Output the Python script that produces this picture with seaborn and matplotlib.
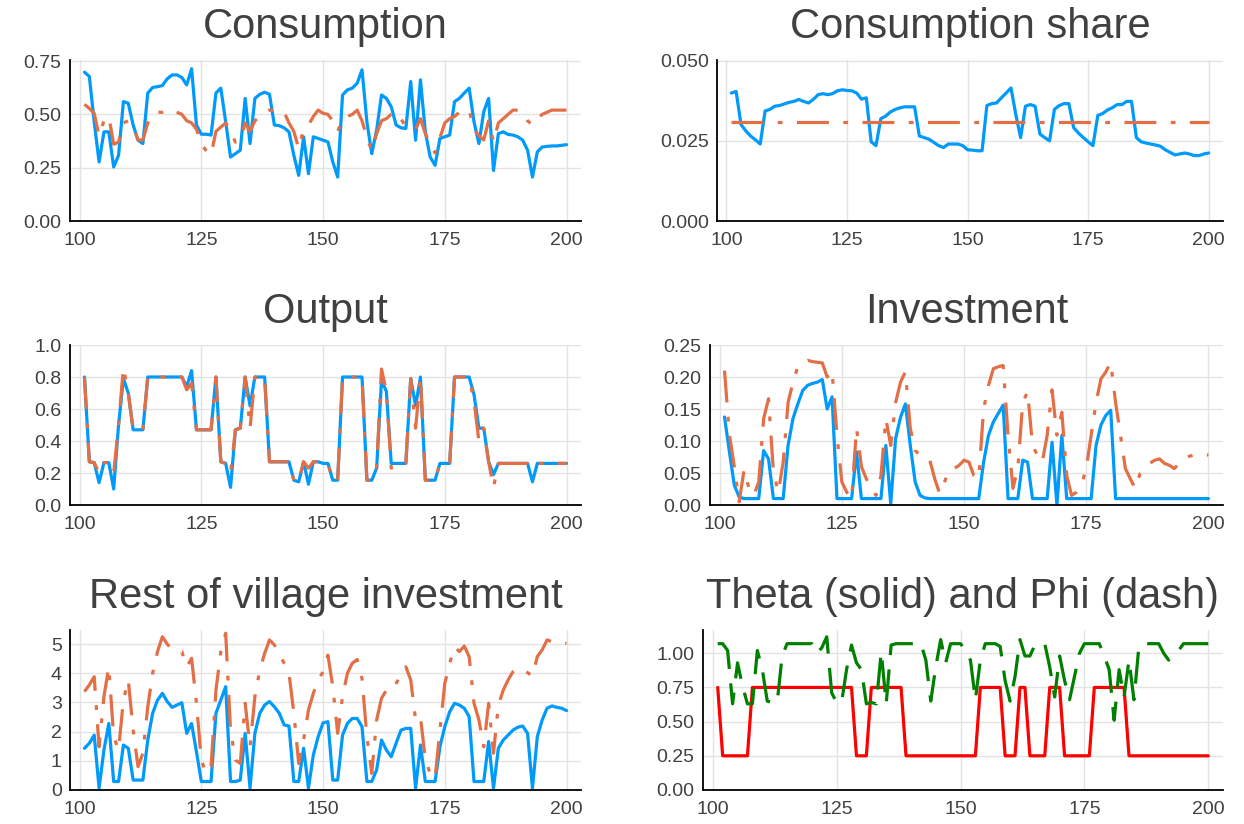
import numpy as np
import matplotlib
matplotlib.use("Agg")
import matplotlib.pyplot as plt
import seaborn as sns

# ---- data -------------------------------------------------------------
periods = list(range(101, 201))

consumption = [
    0.698, 0.678, 0.465, 0.277, 0.418, 0.418, 0.253, 0.308, 0.560, 0.552,
    0.450, 0.379, 0.363, 0.600, 0.626, 0.630, 0.635, 0.667, 0.685, 0.685,
    0.673, 0.638, 0.714, 0.450, 0.407, 0.407, 0.403, 0.600, 0.623, 0.465,
    0.300, 0.316, 0.332, 0.575, 0.363, 0.575, 0.594, 0.604, 0.594, 0.450,
    0.447, 0.437, 0.418, 0.308, 0.214, 0.395, 0.222, 0.395, 0.387, 0.379,
    0.371, 0.277, 0.206, 0.591, 0.615, 0.623, 0.646, 0.709, 0.465, 0.316,
    0.426, 0.591, 0.575, 0.536, 0.450, 0.437, 0.434, 0.654, 0.379, 0.662,
    0.418, 0.300, 0.261, 0.387, 0.395, 0.403, 0.560, 0.575, 0.600, 0.623,
    0.465, 0.363, 0.513, 0.575, 0.237, 0.410, 0.418, 0.406, 0.403, 0.395,
    0.379, 0.332, 0.206, 0.324, 0.347, 0.350, 0.352, 0.352, 0.355, 0.358,
]
consumption_alt = [
    0.547, 0.528, 0.505, 0.400, 0.470, 0.490, 0.360, 0.370, 0.460, 0.470,
    0.440, 0.380, 0.380, 0.460, 0.500, 0.510, 0.510, 0.520, 0.520, 0.510,
    0.500, 0.470, 0.460, 0.430, 0.360, 0.330, 0.310, 0.420, 0.440, 0.460,
    0.420, 0.370, 0.380, 0.460, 0.420, 0.470, 0.490, 0.510, 0.520, 0.520,
    0.520, 0.510, 0.460, 0.420, 0.340, 0.430, 0.450, 0.490, 0.520, 0.505,
    0.500, 0.470, 0.420, 0.480, 0.490, 0.500, 0.520, 0.470, 0.390, 0.330,
    0.410, 0.470, 0.480, 0.500, 0.510, 0.480, 0.440, 0.440, 0.430, 0.480,
    0.410, 0.360, 0.320, 0.390, 0.460, 0.480, 0.490, 0.510, 0.520, 0.520,
    0.430, 0.400, 0.380, 0.470, 0.370, 0.460, 0.480, 0.500, 0.520, 0.520,
    0.510, 0.470, 0.450, 0.480, 0.500, 0.510, 0.520, 0.520, 0.520, 0.520,
]

share = [
    0.0399, 0.0404, 0.0301, 0.0281, 0.0265, 0.0253, 0.0240, 0.0343, 0.0348, 0.0358,
    0.0360, 0.0365, 0.0370, 0.0373, 0.0379, 0.0373, 0.0368, 0.0379, 0.0394, 0.0397,
    0.0394, 0.0397, 0.0406, 0.0409, 0.0407, 0.0406, 0.0399, 0.0380, 0.0384, 0.0247,
    0.0235, 0.0319, 0.0327, 0.0340, 0.0348, 0.0353, 0.0356, 0.0356, 0.0356, 0.0265,
    0.0260, 0.0255, 0.0245, 0.0235, 0.0229, 0.0240, 0.0240, 0.0240, 0.0235, 0.0222,
    0.0221, 0.0219, 0.0219, 0.0360, 0.0366, 0.0368, 0.0384, 0.0399, 0.0415, 0.0332,
    0.0260, 0.0358, 0.0363, 0.0358, 0.0271, 0.0260, 0.0250, 0.0348, 0.0360, 0.0366,
    0.0366, 0.0291, 0.0274, 0.0260, 0.0247, 0.0235, 0.0329, 0.0335, 0.0346, 0.0353,
    0.0363, 0.0363, 0.0373, 0.0373, 0.0260, 0.0247, 0.0243, 0.0240, 0.0237, 0.0233,
    0.0222, 0.0214, 0.0206, 0.0209, 0.0212, 0.0209, 0.0204, 0.0204, 0.0209, 0.0212,
]
share_alt = [0.031] * 100

output = [
    0.80, 0.27, 0.265, 0.14, 0.265, 0.265, 0.10, 0.50, 0.79, 0.70,
    0.47, 0.47, 0.47, 0.80, 0.80, 0.80, 0.80, 0.80, 0.80, 0.80,
    0.80, 0.74, 0.84, 0.47, 0.47, 0.47, 0.47, 0.80, 0.27, 0.26,
    0.11, 0.47, 0.48, 0.80, 0.62, 0.80, 0.80, 0.80, 0.27, 0.27,
    0.27, 0.27, 0.27, 0.155, 0.145, 0.27, 0.13, 0.27, 0.27, 0.26,
    0.26, 0.155, 0.155, 0.80, 0.80, 0.80, 0.80, 0.80, 0.155, 0.155,
    0.23, 0.78, 0.71, 0.26, 0.26, 0.26, 0.26, 0.79, 0.62, 0.80,
    0.155, 0.155, 0.155, 0.26, 0.26, 0.26, 0.80, 0.80, 0.80, 0.80,
    0.69, 0.48, 0.48, 0.27, 0.19, 0.26, 0.26, 0.26, 0.26, 0.26,
    0.26, 0.26, 0.145, 0.26, 0.26, 0.26, 0.26, 0.26, 0.26, 0.26,
]
output_alt = [
    0.80, 0.27, 0.265, 0.20, 0.265, 0.265, 0.20, 0.50, 0.86, 0.70,
    0.47, 0.47, 0.47, 0.80, 0.80, 0.80, 0.80, 0.80, 0.80, 0.80,
    0.80, 0.72, 0.76, 0.47, 0.47, 0.47, 0.47, 0.80, 0.27, 0.26,
    0.20, 0.47, 0.48, 0.80, 0.48, 0.80, 0.80, 0.80, 0.27, 0.27,
    0.27, 0.27, 0.27, 0.155, 0.145, 0.27, 0.23, 0.27, 0.27, 0.26,
    0.26, 0.155, 0.155, 0.80, 0.80, 0.80, 0.80, 0.80, 0.155, 0.155,
    0.23, 0.85, 0.71, 0.23, 0.26, 0.26, 0.26, 0.79, 0.48, 0.80,
    0.155, 0.155, 0.155, 0.26, 0.26, 0.26, 0.80, 0.80, 0.80, 0.80,
    0.65, 0.40, 0.48, 0.27, 0.11, 0.26, 0.26, 0.26, 0.26, 0.26,
    0.26, 0.26, 0.23, 0.26, 0.26, 0.26, 0.26, 0.26, 0.26, 0.26,
]

investment = [
    0.1375, 0.083, 0.031, 0.0125, 0.01, 0.01, 0.01, 0.01, 0.085, 0.072,
    0.01, 0.01, 0.01, 0.093, 0.135, 0.158, 0.179, 0.187, 0.190, 0.192,
    0.196, 0.150, 0.169, 0.01, 0.01, 0.01, 0.01, 0.083, 0.01, 0.01,
    0.01, 0.01, 0.01, 0.093, 0.002, 0.104, 0.137, 0.158, 0.093, 0.036,
    0.015, 0.011, 0.01, 0.01, 0.01, 0.01, 0.01, 0.01, 0.01, 0.01,
    0.01, 0.01, 0.01, 0.067, 0.109, 0.130, 0.143, 0.156, 0.01, 0.01,
    0.01, 0.070, 0.067, 0.01, 0.01, 0.01, 0.01, 0.098, 0.0, 0.109,
    0.01, 0.01, 0.01, 0.01, 0.01, 0.01, 0.093, 0.125, 0.140, 0.148,
    0.01, 0.01, 0.01, 0.01, 0.01, 0.01, 0.01, 0.01, 0.01, 0.01,
    0.01, 0.01, 0.01, 0.01, 0.01, 0.01, 0.01, 0.01, 0.01, 0.01,
]
investment_alt = [
    0.210, 0.110, 0.060, 0.005, 0.055, 0.026, 0.015, 0.036, 0.135, 0.166,
    0.052, 0.020, 0.067, 0.160, 0.192, 0.216, 0.223, 0.226, 0.224, 0.223,
    0.222, 0.200, 0.210, 0.109, 0.036, 0.020, 0.010, 0.120, 0.060, 0.041,
    0.026, 0.015, 0.046, 0.135, 0.093, 0.160, 0.192, 0.208, 0.120, 0.085,
    0.078, 0.072, 0.070, 0.041, 0.018, 0.036, 0.055, 0.057, 0.062, 0.070,
    0.067, 0.046, 0.041, 0.150, 0.187, 0.213, 0.216, 0.218, 0.109, 0.026,
    0.057, 0.160, 0.177, 0.093, 0.078, 0.067, 0.109, 0.180, 0.109, 0.145,
    0.046, 0.015, 0.020, 0.031, 0.057, 0.109, 0.160, 0.197, 0.208, 0.223,
    0.160, 0.109, 0.057, 0.041, 0.026, 0.049, 0.057, 0.065, 0.070, 0.072,
    0.065, 0.062, 0.057, 0.065, 0.073, 0.076, 0.078, 0.079, 0.079, 0.078,
]

village_inv = [
    1.43, 1.60, 1.88, 0.06, 1.37, 2.28, 0.29, 0.29, 1.54, 1.43,
    0.34, 0.34, 0.34, 1.71, 2.63, 3.08, 3.31, 3.03, 2.83, 2.91,
    2.99, 1.94, 2.28, 1.31, 0.29, 0.29, 0.29, 2.63, 3.08, 3.54,
    0.29, 0.29, 0.34, 1.94, 0.06, 1.94, 2.63, 2.91, 3.03, 2.85,
    2.63, 2.23, 2.19, 0.29, 0.29, 1.43, 0.06, 1.20, 1.83, 2.30,
    2.34, 0.34, 0.34, 1.88, 2.28, 2.45, 2.45, 2.17, 0.29, 0.29,
    0.69, 1.71, 1.37, 1.14, 1.60, 2.05, 2.11, 2.11, 0.06, 1.54,
    0.29, 0.29, 0.29, 1.48, 2.17, 2.68, 2.97, 2.91, 2.80, 2.51,
    0.29, 0.29, 0.29, 1.66, 0.06, 1.43, 1.71, 1.88, 2.05, 2.15,
    2.19, 1.94, 0.06, 1.83, 2.40, 2.80, 2.88, 2.83, 2.80, 2.72,
]
village_inv_alt = [
    3.37, 3.60, 3.88, 1.48, 3.20, 4.22, 1.83, 1.37, 3.08, 3.77,
    2.05, 0.80, 1.26, 2.85, 4.00, 4.74, 5.25, 5.00, 4.80, 4.74,
    4.74, 4.22, 4.51, 2.97, 1.03, 0.57, 0.80, 3.42, 4.74, 5.37,
    2.05, 1.03, 0.91, 2.97, 1.48, 3.20, 4.11, 4.68, 5.14, 4.97,
    4.68, 4.34, 4.00, 2.63, 0.91, 1.71, 2.74, 3.31, 3.77, 4.05,
    4.62, 3.54, 1.94, 3.20, 4.00, 4.34, 4.47, 3.82, 1.83, 0.57,
    2.40, 3.14, 3.42, 3.40, 3.65, 3.94, 4.22, 3.77, 2.40, 2.51,
    1.03, 0.57, 0.40, 2.05, 3.65, 4.34, 4.90, 4.74, 4.93, 4.57,
    2.97, 2.40, 1.48, 2.97, 1.26, 2.91, 3.42, 3.77, 4.05, 4.17,
    4.11, 4.02, 3.90, 4.57, 4.80, 5.14, 5.08, 5.05, 5.05, 5.02,
]

theta = [
    0.75, 0.25, 0.25, 0.25, 0.25, 0.25, 0.25, 0.75, 0.75, 0.75,
    0.75, 0.75, 0.75, 0.75, 0.75, 0.75, 0.75, 0.75, 0.75, 0.75,
    0.75, 0.75, 0.75, 0.75, 0.75, 0.75, 0.75, 0.75, 0.25, 0.25,
    0.25, 0.75, 0.75, 0.75, 0.75, 0.75, 0.75, 0.75, 0.25, 0.25,
    0.25, 0.25, 0.25, 0.25, 0.25, 0.25, 0.25, 0.25, 0.25, 0.25,
    0.25, 0.25, 0.25, 0.75, 0.75, 0.75, 0.75, 0.75, 0.25, 0.25,
    0.25, 0.75, 0.75, 0.25, 0.25, 0.25, 0.25, 0.75, 0.75, 0.75,
    0.25, 0.25, 0.25, 0.25, 0.25, 0.25, 0.75, 0.75, 0.75, 0.75,
    0.75, 0.75, 0.75, 0.25, 0.25, 0.25, 0.25, 0.25, 0.25, 0.25,
    0.25, 0.25, 0.25, 0.25, 0.25, 0.25, 0.25, 0.25, 0.25, 0.25,
]
phi = [
    1.07, 1.07, 1.02, 0.63, 0.93, 0.76, 0.63, 0.63, 1.02, 0.88,
    0.65, 0.64, 0.64, 0.98, 1.07, 1.07, 1.07, 1.07, 1.07, 1.07,
    1.00, 1.04, 1.12, 0.71, 0.64, 0.64, 0.88, 1.06, 0.93, 0.88,
    0.63, 0.64, 0.63, 1.01, 0.63, 1.06, 1.07, 1.07, 1.07, 1.07,
    1.07, 1.07, 0.95, 0.65, 0.90, 1.10, 0.93, 1.07, 1.07, 1.07,
    1.02, 0.95, 0.66, 0.95, 1.07, 1.07, 1.07, 1.05, 0.80, 0.65,
    0.83, 1.10, 0.98, 0.98, 1.06, 1.07, 1.07, 0.90, 0.68, 0.98,
    0.80, 0.66, 0.83, 1.00, 1.07, 1.07, 1.07, 1.07, 0.98, 0.88,
    0.51, 0.88, 0.68, 0.95, 0.66, 1.05, 1.07, 1.07, 1.07, 1.07,
    1.00, 0.95, 0.98, 1.02, 1.07, 1.07, 1.07, 1.07, 1.07, 1.07,
]

# ---- style ------------------------------------------------------------
sns.set_style("white")
plt.rcParams["font.family"] = ["Liberation Sans", "DejaVu Sans"]

BLUE = "#009AFA"
ORANGE = "#E26F46"
RED = "#FF0000"
GREEN = "#008000"
TEXT = "#404040"
DASHDOT = (0, (10, 4.5, 1.5, 4.5))
DASHED = (0, (10, 4.5))
LW = 2.3

W, H = 1244, 824
fig = plt.figure(figsize=(W / 100, H / 100), dpi=100)


def make_axes(left, right, top, bottom):
    return fig.add_axes([left / W, 1 - bottom / H, (right - left) / W, (bottom - top) / H])


def style(ax, title, ylim, yticks, yfmt):
    ax.set_xlim(98.03, 202.97)
    ax.set_ylim(*ylim)
    ax.set_xticks([100, 125, 150, 175, 200])
    ax.set_yticks(yticks)
    ax.set_yticklabels([yfmt.format(v) for v in yticks])
    ax.grid(True, color="#e3e3e3", linewidth=1.0)
    ax.set_axisbelow(True)
    for side in ("top", "right"):
        ax.spines[side].set_visible(False)
    for side in ("left", "bottom"):
        ax.spines[side].set_color("black")
        ax.spines[side].set_linewidth(1.3)
    ax.tick_params(direction="in", length=4, width=1, colors="black",
                   labelcolor=TEXT, labelsize=14)
    ax.tick_params(axis="x", pad=8)
    ax.tick_params(axis="y", pad=6)
    ax.set_title(title, fontsize=30, color=TEXT, pad=16)
    ax.set_xlabel("")
    ax.set_ylabel("")


def draw(ax, y, color, ls="-"):
    sns.lineplot(x=periods, y=y, ax=ax, color=color, linewidth=LW,
                 linestyle=ls, estimator=None, sort=False)


ax1 = make_axes(70, 581, 60, 221)
draw(ax1, consumption, BLUE)
draw(ax1, consumption_alt, ORANGE, DASHDOT)
style(ax1, "Consumption", (0, 0.755), [0, 0.25, 0.5, 0.75], "{:.2f}")

ax2 = make_axes(717, 1223, 60, 221)
draw(ax2, share, BLUE)
draw(ax2, share_alt, ORANGE, DASHDOT)
style(ax2, "Consumption share", (0, 0.0502), [0, 0.025, 0.05], "{:.3f}")

ax3 = make_axes(70, 581, 345, 505)
draw(ax3, output, BLUE)
draw(ax3, output_alt, ORANGE, DASHDOT)
style(ax3, "Output", (0, 1.0), [0, 0.2, 0.4, 0.6, 0.8, 1.0], "{:.1f}")

ax4 = make_axes(710, 1223, 345, 505)
draw(ax4, investment, BLUE)
draw(ax4, investment_alt, ORANGE, DASHDOT)
style(ax4, "Investment", (0, 0.25), [0, 0.05, 0.10, 0.15, 0.20, 0.25], "{:.2f}")

ax5 = make_axes(70, 581, 630, 790)
draw(ax5, village_inv, BLUE)
draw(ax5, village_inv_alt, ORANGE, DASHDOT)
style(ax5, "Rest of village investment", (0, 5.48), [0, 1, 2, 3, 4, 5], "{:d}")

ax6 = make_axes(703, 1223, 630, 790)
draw(ax6, theta, RED)
draw(ax6, phi, GREEN, DASHED)
style(ax6, "Theta (solid) and Phi (dash)", (0, 1.17), [0, 0.25, 0.5, 0.75, 1.0], "{:.2f}")

fig.savefig("out.png", dpi=100)
